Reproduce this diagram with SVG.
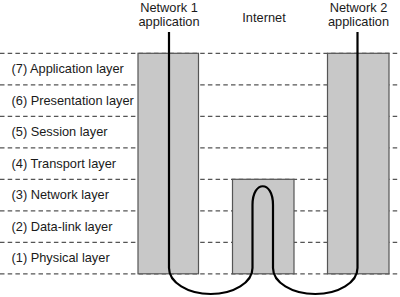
<svg xmlns="http://www.w3.org/2000/svg" width="400" height="297" viewBox="0 0 400 297">
<style>
text{font-family:"Liberation Sans",Arial,sans-serif;font-size:12.8px;fill:#1a1a1a}
.dash{stroke:#555;stroke-width:1.2;stroke-dasharray:4.5 3.2;fill:none}
.box{fill:#c8c8c8;stroke:#555;stroke-width:1.2}
.cable{fill:none;stroke:#000;stroke-width:2.2}
.mid{text-anchor:middle}
</style>
<rect width="400" height="297" fill="#fff"/>
<g id="layer-lines">
<line class="dash" x1="0" y1="53.3" x2="400" y2="53.3"/>
<line class="dash" x1="0" y1="84.8" x2="400" y2="84.8"/>
<line class="dash" x1="0" y1="116.3" x2="400" y2="116.3"/>
<line class="dash" x1="0" y1="147.8" x2="400" y2="147.8"/>
<line class="dash" x1="0" y1="179.3" x2="400" y2="179.3"/>
<line class="dash" x1="0" y1="210.8" x2="400" y2="210.8"/>
<line class="dash" x1="0" y1="242.3" x2="400" y2="242.3"/>
<line class="dash" x1="0" y1="273.8" x2="400" y2="273.8"/>
</g>
<g id="layer-7"><text x="11.5" y="73">(7) Application layer</text></g>
<g id="layer-6"><text x="11.5" y="104.5">(6) Presentation layer</text></g>
<g id="layer-5"><text x="11.5" y="136">(5) Session layer</text></g>
<g id="layer-4"><text x="11.5" y="167.5">(4) Transport layer</text></g>
<g id="layer-3"><text x="11.5" y="199">(3) Network layer</text></g>
<g id="layer-2"><text x="11.5" y="230.5">(2) Data-link layer</text></g>
<g id="layer-1"><text x="11.5" y="262">(1) Physical layer</text></g>
<g id="network1">
<rect class="box" x="138" y="53.3" width="60.5" height="220.5"/>
<text class="mid" x="169" y="11.5">Network 1</text>
<text class="mid" x="169" y="25.5">application</text>
</g>
<g id="internet">
<rect class="box" x="232.5" y="179.3" width="61.5" height="94.5"/>
<text class="mid" x="264" y="21.5">Internet</text>
</g>
<g id="network2">
<rect class="box" x="327.5" y="53.3" width="61.5" height="220.5"/>
<text class="mid" x="358.5" y="11.5">Network 2</text>
<text class="mid" x="358.5" y="25.5">application</text>
</g>
<g id="connectors">
<path class="cable" d="M169,32 V268 A41.75,26 0 0 0 252.5,268 V205 C252.5,180 273,180 273,205 V268 A42.25,26 0 0 0 357.5,268 V32"/>
</g>
</svg>
